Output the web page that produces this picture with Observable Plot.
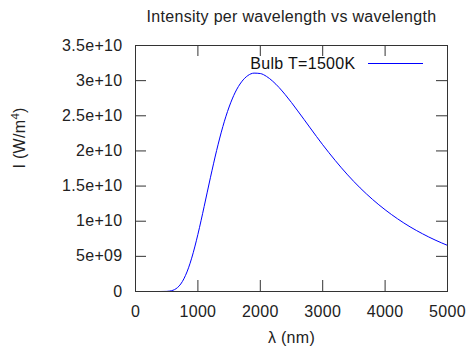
<!DOCTYPE html>
<html>
<head>
<meta charset="utf-8">
<script src="https://cdn.jsdelivr.net/npm/d3@7"></script>
<script src="https://cdn.jsdelivr.net/npm/@observablehq/plot@0.6"></script>
<style>
  html, body { margin: 0; padding: 0; background: white; }
</style>
</head>
<body>
<div id="chart"></div>
<script>
const titleText = "Intensity per wavelength vs wavelength";
const xLabel = "λ (nm)";
const yLabelParts = ["I (W/m", "4", ")"];
const seriesName = "Bulb T=1500K";

const wavelength = [0, 100, 200, 300, 400, 500, 550, 600, 650, 700, 750, 800, 850, 900, 950,
  1000, 1100, 1200, 1300, 1400, 1500, 1600, 1700, 1800, 1900, 2000, 2100, 2200, 2300, 2400,
  2500, 2600, 2700, 2800, 2900, 3000, 3200, 3400, 3600, 3800, 4000, 4200, 4400, 4600, 4800, 5000];
const intensity = [0, 0, 0, 0, 4.5e5, 1.78e7, 6.3e7, 1.75e8, 4.0e8, 7.91e8, 1.40e9, 2.26e9, 3.37e9, 4.74e9, 6.34e9,
  8.13e9, 1.208e10, 1.618e10, 2.006e10, 2.347e10, 2.625e10, 2.837e10, 2.983e10, 3.072e10, 3.107e10, 3.101e10, 3.060e10, 2.991e10, 2.903e10, 2.800e10,
  2.688e10, 2.569e10, 2.449e10, 2.327e10, 2.206e10, 2.088e10, 1.865e10, 1.659e10, 1.474e10, 1.309e10, 1.163e10, 1.034e10, 9.20e9, 8.21e9, 7.33e9, 6.56e9];

const xTicks = [0, 1000, 2000, 3000, 4000, 5000];
const xTickLabels = ["0", "1000", "2000", "3000", "4000", "5000"];
const yTicks = [0, 5e9, 1e10, 1.5e10, 2e10, 2.5e10, 3e10, 3.5e10];
const yTickLabels = ["0", "5e+09", "1e+10", "1.5e+10", "2e+10", "2.5e+10", "3e+10", "3.5e+10"];

const data = wavelength.map((w, i) => ({w, v: intensity[i]}));

const W = 466, H = 347;
const mL = 135, mR = 19, mT = 45, mB = 56;
const fw = W - mL - mR, fh = H - mT - mB;
const tick = 11;
const axisColor = "#333";
const fs = 16;

const legendSwatch = (index, scales, values, dims) => {
  const g = d3.create("svg:g");
  const y = dims.marginTop + 18.5;
  const x0 = dims.width - dims.marginRight - 79;
  g.append("line")
    .attr("x1", x0).attr("x2", x0 + 55)
    .attr("y1", y).attr("y2", y)
    .attr("stroke", "blue").attr("stroke-width", 1);
  return g.node();
};

const chart = Plot.plot({
  width: W,
  height: H,
  marginLeft: mL,
  marginRight: mR,
  marginTop: mT,
  marginBottom: mB,
  style: {fontFamily: "'Liberation Sans', Arial, sans-serif", fontSize: fs + "px", letterSpacing: "0.3px", background: "white", color: "#222"},
  x: {domain: [0, 5000]},
  y: {domain: [0, 3.5e10]},
  marks: [
    Plot.tickY(yTicks, {y: d => d, insetRight: fw - tick, stroke: axisColor}),
    Plot.tickY(yTicks, {y: d => d, insetLeft: fw - tick, stroke: axisColor}),
    Plot.tickX(xTicks, {x: d => d, insetTop: fh - tick, stroke: axisColor}),
    Plot.tickX(xTicks, {x: d => d, insetBottom: fh - tick, stroke: axisColor}),
    Plot.axisY({ticks: yTicks, tickSize: 0, tickPadding: 13, label: null, fontSize: fs,
      tickFormat: d => yTickLabels[yTicks.indexOf(d)]}),
    Plot.axisX({ticks: xTicks, tickSize: 0, tickPadding: 14, label: null, fontSize: fs,
      tickFormat: d => xTickLabels[xTicks.indexOf(d)]}),
    Plot.line(data, {x: "w", y: "v", stroke: "blue", strokeWidth: 1, curve: "monotone-x"}),
    Plot.frame({stroke: axisColor, strokeWidth: 1}),
    Plot.text([titleText], {frameAnchor: "top", dy: -29, lineAnchor: "middle", fontSize: fs, fill: "#222"}),
    Plot.text([xLabel], {frameAnchor: "bottom", dy: 46, lineAnchor: "middle", fontSize: fs, fill: "#222"}),
    Plot.text([yLabelParts.join("")], {frameAnchor: "left", dx: -116, rotate: -90, lineAnchor: "middle", fontSize: fs, fill: "#222"}),
    Plot.text([seriesName], {frameAnchor: "top-right", dx: -92, dy: 18, textAnchor: "end", lineAnchor: "middle", fontSize: fs, fill: "#111"}),
    legendSwatch
  ]
});

// superscript exponent in the y label
const ylab = Array.from(chart.querySelectorAll("text")).find(t => t.textContent === yLabelParts.join(""));
if (ylab) {
  while (ylab.firstChild) ylab.removeChild(ylab.firstChild);
  const ns = "http://www.w3.org/2000/svg";
  const a = document.createElementNS(ns, "tspan"); a.textContent = yLabelParts[0];
  const b = document.createElementNS(ns, "tspan"); b.textContent = yLabelParts[1];
  b.setAttribute("dy", "-0.45em"); b.setAttribute("font-size", "0.72em");
  const c = document.createElementNS(ns, "tspan"); c.textContent = yLabelParts[2];
  c.setAttribute("dy", "0.33em");
  ylab.append(a, b, c);
}
document.getElementById("chart").appendChild(chart);
</script>
</body>
</html>
